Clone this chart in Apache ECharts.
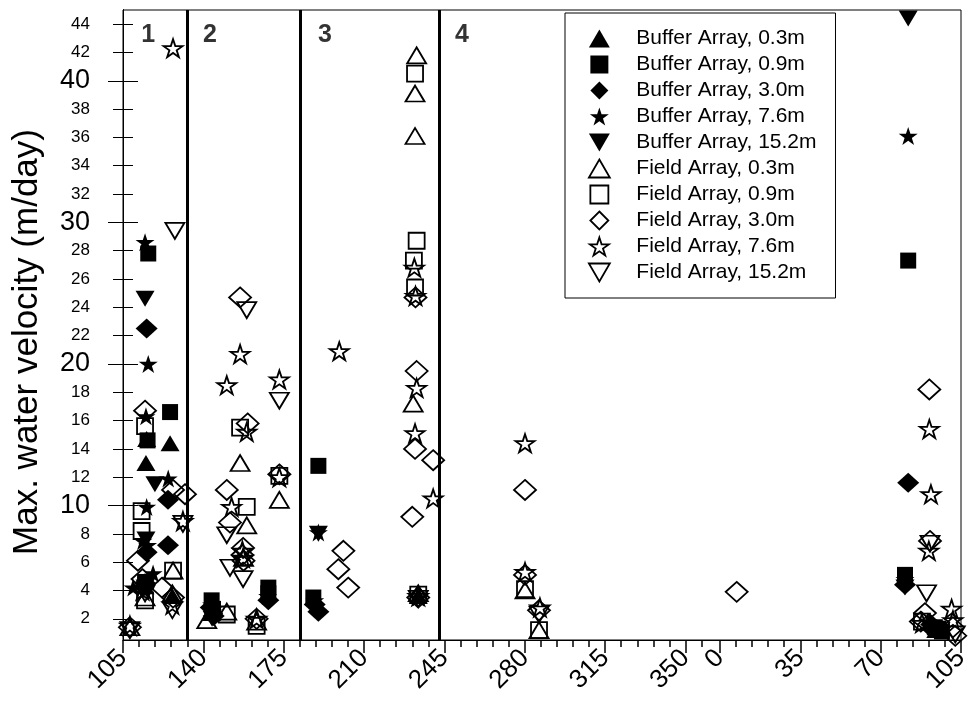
<!DOCTYPE html>
<html>
<head>
<meta charset="utf-8">
<script src="https://cdn.jsdelivr.net/npm/echarts@6/dist/echarts.min.js"></script>
<style>
  html, body { margin: 0; padding: 0; background: #fff; }
  #chart { width: 971px; height: 717px; }
</style>
</head>
<body>
<div id="chart"></div>
<script>
// Day-of-year axis that runs across the year boundary: days past 365 are labelled from 0 again.
const xMajorTicks = [105, 140, 175, 210, 245, 280, 315, 350, 365, 400, 435, 470];
const xMajorLabels = ['105', '140', '175', '210', '245', '280', '315', '350', '0', '35', '70', '105'];
const xMinorTicks = [112, 119, 126, 133, 147, 154, 161, 168, 182, 189, 196, 203, 217, 224, 231, 238,
  252, 259, 266, 273, 287, 294, 301, 308, 322, 329, 336, 343, 357,
  372, 379, 386, 393, 407, 414, 421, 428, 442, 449, 456, 463];
const yTicks = [2, 4, 6, 8, 10, 12, 14, 16, 18, 20, 22, 24, 26, 28, 30, 32, 34, 36, 38, 40, 42, 44];
const yMajorTicks = [10, 20, 30, 40];

// Boundaries between the four monitoring periods (day of year) and their labels
const periodBounds = [133.2, 182.2, 242.8];
const periodNames = ['1', '2', '3', '4'];
const periodLabelDays = [116.0, 142.9, 193.0, 252.6];
const periodLabelLevel = 43.2;

// Maximum water velocity (m/day) by day of year
const buffer03 = [[115.3, 14.7], [125.5, 14.4], [115.0, 13.0], [114.6, 4.3], [126.5, 3.6], [143.6, 2.4],
  [144.5, 2.9], [233.6, 3.6], [459.0, 1.2]];
const buffer09 = [[116.0, 27.8], [125.5, 16.6], [115.7, 14.6], [114.6, 4.6], [143.6, 3.3], [144.2, 2.7],
  [168.3, 4.2], [168.3, 3.8], [187.9, 3.5], [190.1, 12.8], [447.0, 27.3], [445.6, 5.1], [458.6, 1.4],
  [461.7, 1.1], [460.2, 1.3]];
const buffer30 = [[115.3, 22.5], [124.6, 10.4], [124.6, 7.2], [115.3, 6.7], [114.6, 4.5], [143.2, 2.8],
  [144.5, 2.2], [168.3, 3.3], [190.1, 2.5], [188.5, 3.0], [447.0, 11.6], [445.6, 4.4], [457.0, 1.6]];
const buffer76 = [[114.6, 28.6], [116.0, 20.0], [115.0, 16.3], [124.7, 11.9], [115.3, 9.9], [113.7, 7.5],
  [115.7, 7.2], [118.1, 5.2], [109.4, 4.2], [114.6, 4.0], [143.6, 3.0], [144.0, 2.5], [168.0, 3.6],
  [190.1, 8.1], [188.5, 3.3], [233.6, 3.5], [447.0, 36.1], [445.6, 4.8], [455.5, 1.8]];
const buffer152 = [[114.6, 24.6], [118.9, 11.5], [115.0, 7.6], [114.6, 4.2], [143.8, 2.0], [190.1, 8.0],
  [447.0, 44.4], [445.6, 4.2]];
const field03 = [[126.8, 5.4], [114.6, 3.5], [108.0, 1.4], [126.5, 3.8], [141.5, 1.9], [150.2, 2.5],
  [156.0, 13.0], [158.9, 8.6], [173.1, 10.4], [157.5, 6.3], [163.2, 1.8], [232.9, 41.8], [232.2, 39.1],
  [232.2, 36.1], [231.4, 17.2], [233.6, 3.8], [280.1, 4.0], [286.2, 1.2]];
const field09 = [[114.6, 15.6], [113.1, 9.6], [113.1, 8.2], [126.8, 5.4], [114.6, 3.3], [150.2, 2.3],
  [156.0, 15.5], [158.9, 9.9], [173.1, 12.1], [163.2, 1.5], [232.2, 40.5], [232.9, 28.7], [231.7, 27.3],
  [232.2, 25.4], [233.6, 3.7], [280.1, 4.1], [286.2, 1.2], [453.0, 1.8]];
const field30 = [[114.6, 16.7], [126.8, 11.1], [132.0, 10.8], [111.5, 6.1], [113.5, 4.8], [122.0, 4.2],
  [126.8, 3.5], [108.0, 1.4], [156.0, 24.7], [159.3, 15.8], [173.1, 12.2], [150.2, 11.1], [151.6, 8.8],
  [157.3, 7.0], [157.0, 6.5], [157.5, 6.1], [163.2, 2.0], [232.4, 24.7], [232.9, 19.5], [232.2, 14.0],
  [240.1, 13.2], [231.0, 9.2], [201.0, 6.8], [198.8, 5.5], [203.1, 4.2], [233.6, 3.5], [280.1, 11.1],
  [280.1, 5.1], [286.2, 2.6], [372.3, 3.9], [456.2, 18.2], [456.5, 7.5], [454.3, 2.4], [452.5, 1.8],
  [456.0, 1.6], [466.5, 1.4], [467.5, 0.8]];
const field76 = [[126.8, 42.3], [131.1, 8.9], [113.5, 4.0], [126.5, 3.0], [108.0, 1.5], [156.0, 20.7],
  [150.2, 18.5], [173.1, 18.9], [158.9, 15.2], [173.1, 12.0], [152.3, 9.9], [157.0, 6.8], [157.3, 6.3],
  [163.2, 2.0], [231.9, 26.8], [232.4, 24.8], [199.2, 20.9], [232.9, 18.3], [232.2, 15.1], [240.1, 10.5],
  [233.6, 3.6], [280.1, 14.4], [280.1, 5.3], [286.6, 2.8], [456.2, 15.4], [456.9, 10.8], [456.0, 6.8],
  [465.9, 2.7], [453.0, 1.7], [466.5, 1.9]];
const field152 = [[127.6, 29.4], [131.1, 8.7], [126.5, 2.6], [108.0, 1.2], [114.6, 3.8], [158.9, 23.8],
  [173.1, 17.4], [150.2, 7.9], [151.6, 5.6], [157.3, 4.8], [233.6, 3.4], [286.2, 2.3], [456.5, 7.3],
  [455.0, 3.8], [467.5, 0.9]];

const FONT = 'Arial, "Liberation Sans", Helvetica, sans-serif';

const SHAPES = {
  up: 'path://M50,0L100,86L0,86Z',
  square: 'path://M0,0L100,0L100,100L0,100Z',
  diamond: 'path://M50,0L100,50L50,100L0,50Z',
  star: 'path://M50,0L61.2,34.5L97.6,34.5L68.2,55.9L79.4,90.5L50,69.1L20.6,90.5L31.8,55.9L2.4,34.5L38.8,34.5Z',
  down: 'path://M0,0L100,0L50,86Z'
};
const SHAPE_SIZE = {
  up: [19, 16], square: [16, 16], diamond: [22, 20], star: [19, 18], down: [19, 16]
};

const seriesDefs = [
  { name: 'Buffer Array, 0.3m', data: buffer03, shape: 'up', filled: true },
  { name: 'Buffer Array, 0.9m', data: buffer09, shape: 'square', filled: true },
  { name: 'Buffer Array, 3.0m', data: buffer30, shape: 'diamond', filled: true },
  { name: 'Buffer Array, 7.6m', data: buffer76, shape: 'star', filled: true },
  { name: 'Buffer Array, 15.2m', data: buffer152, shape: 'down', filled: true },
  { name: 'Field Array, 0.3m', data: field03, shape: 'up', filled: false },
  { name: 'Field Array, 0.9m', data: field09, shape: 'square', filled: false },
  { name: 'Field Array, 3.0m', data: field30, shape: 'diamond', filled: false },
  { name: 'Field Array, 7.6m', data: field76, shape: 'star', filled: false },
  { name: 'Field Array, 15.2m', data: field152, shape: 'down', filled: false }
];

function markerStyle(filled) {
  return filled
    ? { color: '#000', borderColor: '#000', borderWidth: 0, opacity: 1 }
    : { color: 'rgba(255,255,255,0)', borderColor: '#000', borderWidth: 1.8, opacity: 1 };
}

const scatterSeries = seriesDefs.map(d => ({
  name: d.name,
  type: 'scatter',
  xAxisIndex: 0,
  yAxisIndex: 0,
  data: d.data,
  symbol: SHAPES[d.shape],
  symbolSize: SHAPE_SIZE[d.shape],
  symbolKeepAspect: false,
  itemStyle: markerStyle(d.filled),
  emphasis: { disabled: true },
  z: d.filled ? 3 : 4
}));

// Period dividers and period numbers
const periodSeries = {
  name: 'periods',
  type: 'scatter',
  xAxisIndex: 0,
  yAxisIndex: 0,
  symbolSize: 1,
  itemStyle: { color: 'rgba(0,0,0,0)' },
  label: {
    show: true,
    position: 'inside',
    formatter: p => p.name,
    fontFamily: FONT,
    fontSize: 25,
    fontWeight: 'bold',
    color: '#000'
  },
  emphasis: { disabled: true },
  silent: true,
  data: periodNames.map((n, i) => ({ name: n, value: [periodLabelDays[i], periodLabelLevel] })),
  markLine: {
    silent: true,
    symbol: 'none',
    label: { show: false },
    emphasis: { disabled: true },
    lineStyle: { color: '#000', width: 3, type: 'solid' },
    data: periodBounds.map(x => ({ xAxis: x }))
  },
  z: 2
};

function yAxisBase() {
  return {
    type: 'value',
    min: 0.5,
    max: 45,
    position: 'left',
    offset: 0,
    axisLine: { show: true, lineStyle: { color: '#000', width: 1 } },
    splitLine: { show: false },
    axisLabel: { show: false }
  };
}

const option = {
  animation: false,
  backgroundColor: '#fff',
  grid: {
    left: 123, right: 10, top: 10, bottom: 77,
    show: true, borderColor: '#000', borderWidth: 1, backgroundColor: 'transparent',
    outerBoundsMode: 'none'
  },
  legend: {
    orient: 'vertical',
    left: 565,
    top: 13,
    padding: [15, 19, 15, 23],
    itemWidth: 64,
    itemHeight: 18,
    itemGap: 5,
    symbolKeepAspect: true,
    selectedMode: false,
    backgroundColor: '#fff',
    borderColor: '#000',
    borderWidth: 1,
    borderRadius: 0,
    textStyle: { fontFamily: FONT, fontSize: 21, color: '#000' },
    data: seriesDefs.map(d => ({ name: d.name, itemStyle: markerStyle(d.filled) }))
  },
  xAxis: [
    {
      type: 'value',
      min: 105,
      max: 470,
      position: 'bottom',
      offset: 0,
      axisLine: { show: true, onZero: false, lineStyle: { color: '#000', width: 1 } },
      axisTick: { show: true, customValues: xMajorTicks, length: 13, inside: false,
        lineStyle: { color: '#000', width: 1.5 } },
      axisLabel: {
        show: true,
        customValues: xMajorTicks,
        formatter: v => xMajorLabels[xMajorTicks.indexOf(v)],
        rotate: 45,
        margin: 14,
        fontFamily: FONT,
        fontSize: 26,
        color: '#000'
      },
      splitLine: { show: false }
    },
    {
      type: 'value',
      min: 105,
      max: 470,
      position: 'bottom',
      offset: 0,
      axisLine: { show: false, onZero: false },
      axisTick: { show: true, customValues: xMinorTicks, length: 7, inside: false,
        lineStyle: { color: '#000', width: 1.5 } },
      axisLabel: { show: false },
      splitLine: { show: false }
    }
  ],
  yAxis: [
    Object.assign(yAxisBase(), {
      name: 'Max. water velocity (m/day)',
      nameLocation: 'middle',
      nameRotate: 90,
      nameGap: 78,
      nameTextStyle: { fontFamily: FONT, fontSize: 35, color: '#000', padding: [0, 34, 0, 0] },
      axisTick: { show: true, customValues: yTicks, length: 10, inside: false,
        lineStyle: { color: '#000', width: 1 } },
      axisLabel: {
        show: true,
        customValues: yTicks,
        margin: 33,
        color: '#000',
        fontFamily: FONT,
        formatter: v => (yMajorTicks.indexOf(v) >= 0 ? '{big|' + v + '}' : '{small|' + v + '}'),
        rich: {
          big: { fontFamily: FONT, fontSize: 27, color: '#000' },
          small: { fontFamily: FONT, fontSize: 17, color: '#000' }
        }
      }
    }),
    Object.assign(yAxisBase(), {
      axisTick: { show: true, customValues: yTicks, length: 10, inside: true,
        lineStyle: { color: '#000', width: 1 } }
    }),
    Object.assign(yAxisBase(), {
      axisTick: { show: true, customValues: yMajorTicks, length: 15, inside: false,
        lineStyle: { color: '#000', width: 1 } }
    }),
    Object.assign(yAxisBase(), {
      axisTick: { show: true, customValues: yMajorTicks, length: 15, inside: true,
        lineStyle: { color: '#000', width: 1 } }
    })
  ],
  series: [periodSeries].concat(scatterSeries)
};

const chart = echarts.init(document.getElementById('chart'), null, { renderer: 'canvas' });
chart.setOption(option);
</script>
</body>
</html>
